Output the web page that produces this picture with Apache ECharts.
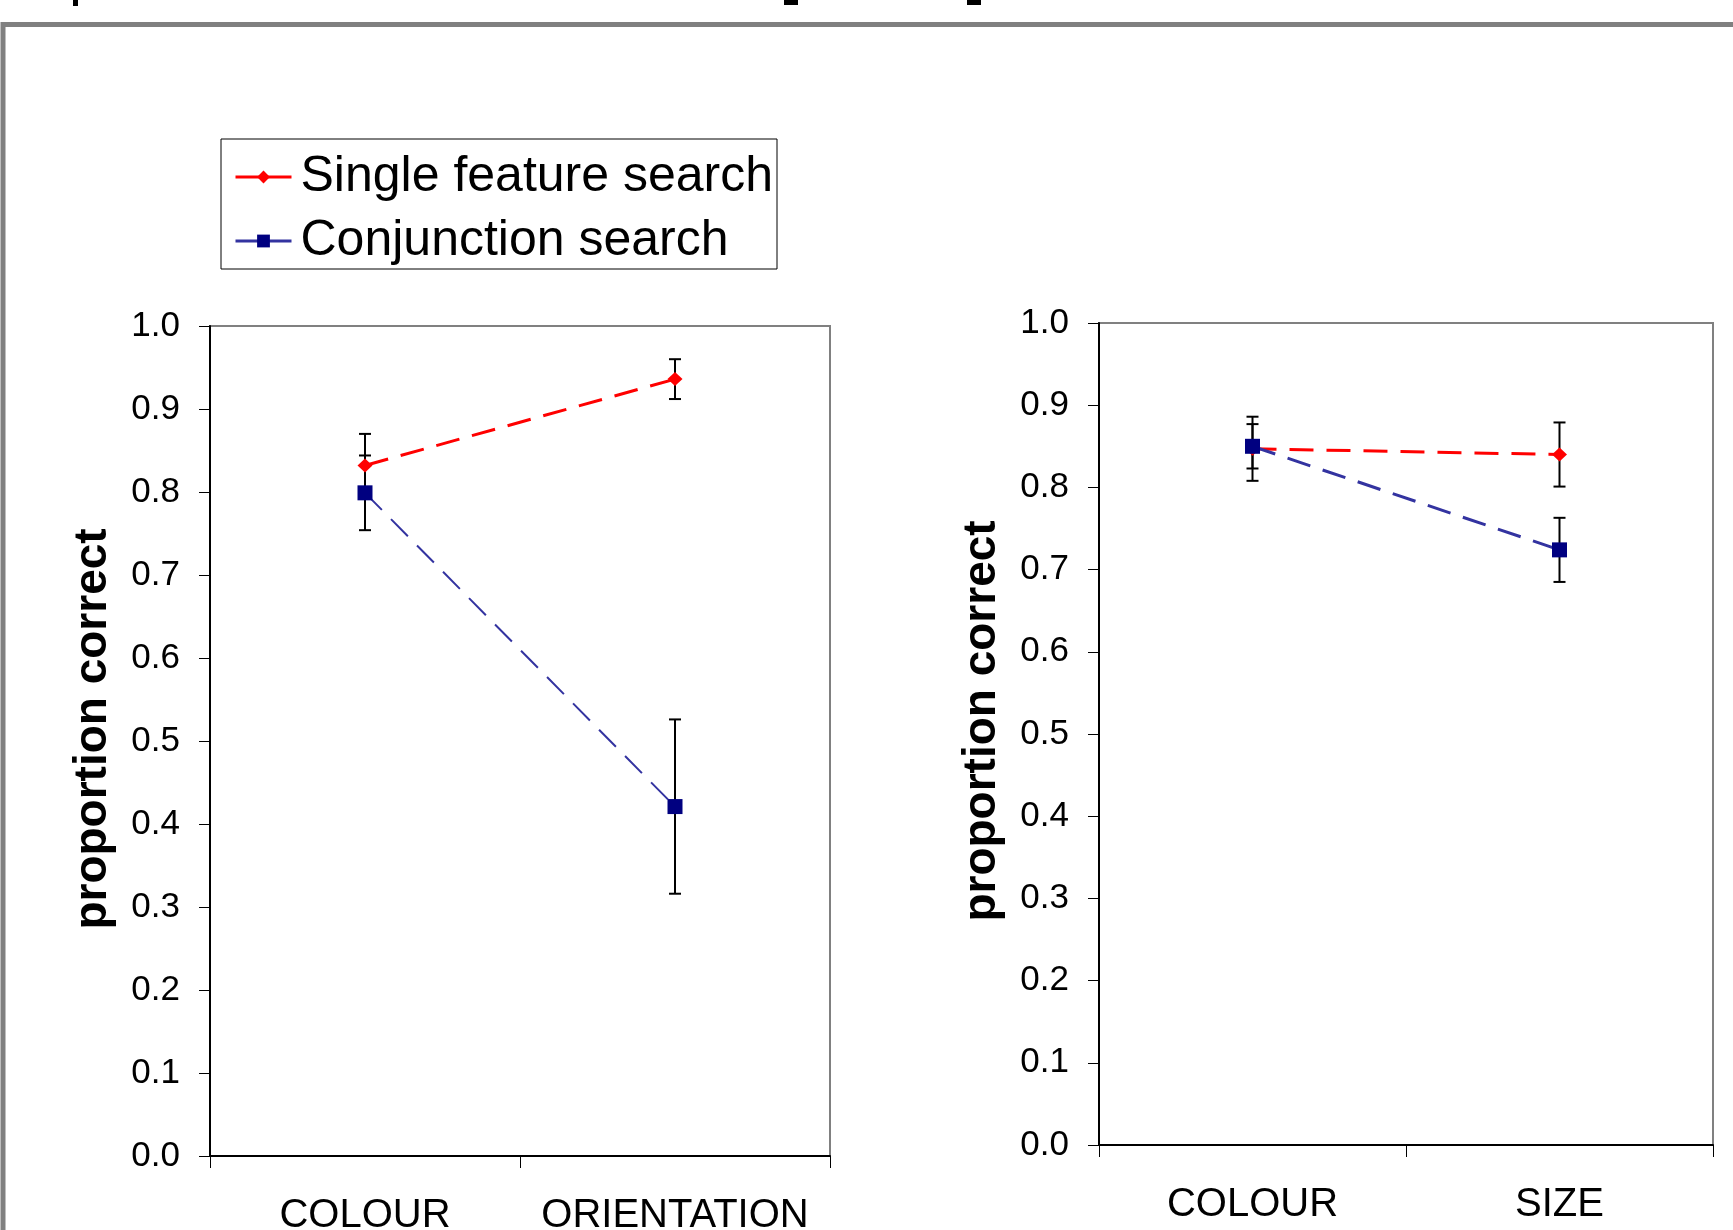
<!DOCTYPE html>
<html>
<head>
<meta charset="utf-8">
<script src="https://cdn.jsdelivr.net/npm/echarts@6/dist/echarts.min.js"></script>
<style>
  html, body { margin: 0; padding: 0; background: #fff; }
  #chart { width: 1733px; height: 1230px; }
</style>
</head>
<body>
<div id="chart"></div>
<script>
// data
var seriesNames = ['Single feature search', 'Conjunction search'];
var leftCategories = ['COLOUR', 'ORIENTATION'];
var rightCategories = ['COLOUR', 'SIZE'];
var singleLeft = [0.832, 0.936];
var singleLeftErr = [0.038, 0.024];
var conjLeft = [0.799, 0.421];
var conjLeftErr = [0.045, 0.105];
var singleRight = [0.847, 0.840];
var singleRightErr = [0.039, 0.039];
var conjRight = [0.850, 0.724];
var conjRightErr = [0.027, 0.039];
var yTicks = [0, 1, 0.1]; // min, max, interval

var FONT = '"Liberation Sans", Arial, sans-serif';
var RED = '#ff0000';
var NAVY = '#000080';
var BLUE_LINE = '#3333a0';

function errData(vals, errs) {
    return vals.map(function (v, i) {
        return [i, v - errs[i], v + errs[i]];
    });
}

function errorSeries(idx, vals, errs) {
    return {
        type: 'custom',
        xAxisIndex: idx,
        yAxisIndex: idx,
        z: 1,
        silent: true,
        encode: { x: 0, y: [1, 2] },
        data: errData(vals, errs),
        renderItem: function (params, api) {
            var top = api.coord([api.value(0), api.value(2)]);
            var bot = api.coord([api.value(0), api.value(1)]);
            var cap = 6;
            var style = { stroke: '#000', lineWidth: 2 };
            return {
                type: 'group',
                children: [
                    { type: 'line', shape: { x1: top[0], y1: top[1], x2: bot[0], y2: bot[1] }, style: style },
                    { type: 'line', shape: { x1: top[0] - cap, y1: top[1], x2: top[0] + cap, y2: top[1] }, style: style },
                    { type: 'line', shape: { x1: bot[0] - cap, y1: bot[1], x2: bot[0] + cap, y2: bot[1] }, style: style }
                ]
            };
        }
    };
}

function lineSeries(idx, name, vals, isSingle, width) {
    return {
        name: name,
        type: 'line',
        xAxisIndex: idx,
        yAxisIndex: idx,
        z: 3,
        data: vals,
        symbol: isSingle ? 'diamond' : 'rect',
        symbolSize: isSingle ? [15, 14] : 15,
        itemStyle: { color: isSingle ? RED : NAVY },
        lineStyle: {
            color: isSingle ? RED : BLUE_LINE,
            width: width,
            type: [24, 13]
        },
        animation: false
    };
}

function xAxis(idx, cats) {
    return {
        type: 'category',
        gridIndex: idx,
        data: cats,
        boundaryGap: true,
        axisLine: { lineStyle: { color: '#000', width: 2 } },
        axisTick: { show: true, length: 12, lineStyle: { color: '#000', width: 1 } },
        axisLabel: {
            color: '#000', fontSize: 40, fontFamily: FONT, margin: 40,
            interval: 0, hideOverlap: false
        },
        splitLine: { show: false }
    };
}

function yAxis(idx, pad) {
    return {
        type: 'value',
        gridIndex: idx,
        min: yTicks[0],
        max: yTicks[1],
        interval: yTicks[2],
        name: 'proportion correct',
        nameLocation: 'middle',
        nameGap: 94,
        nameTextStyle: {
            color: '#000', fontSize: 46, fontWeight: 'bold', fontFamily: FONT,
            padding: [0, 0, 0, pad]
        },
        axisLine: { show: true, lineStyle: { color: '#000', width: 2 } },
        axisTick: { show: true, length: 11, lineStyle: { color: '#000', width: 1 } },
        axisLabel: {
            color: '#000', fontSize: 35, fontFamily: FONT, margin: 30,
            formatter: function (v) { return v.toFixed(1); }
        },
        splitLine: { show: false }
    };
}

var myChart = echarts.init(document.getElementById('chart'), null, { renderer: 'canvas' });

var option = {
    backgroundColor: '#fff',
    animation: false,
    grid: [
        { left: 210, top: 326, width: 620, height: 830, show: true, outerBoundsMode: 'none', containLabel: false,
          borderColor: '#808080', borderWidth: 2, backgroundColor: 'transparent' },
        { left: 1099, top: 323, width: 614, height: 822, show: true, outerBoundsMode: 'none', containLabel: false,
          borderColor: '#808080', borderWidth: 2, backgroundColor: 'transparent' }
    ],
    legend: {
        orient: 'vertical',
        left: 221,
        top: 139,
        data: seriesNames,
        padding: [10, 4, 0, 13],
        itemGap: 8,
        itemWidth: 56,
        itemHeight: 16,
        backgroundColor: '#fff',
        borderColor: '#000',
        borderWidth: 1,
        borderRadius: 0,
        lineStyle: { type: 'solid', width: 3 },
        textStyle: {
            color: '#000', fontSize: 50, fontFamily: FONT, lineHeight: 56,
            padding: [0, 0, 0, 4]
        }
    },
    xAxis: [xAxis(0, leftCategories), xAxis(1, rightCategories)],
    yAxis: [yAxis(0, 24), yAxis(1, 26)],
    series: [
        errorSeries(0, singleLeft, singleLeftErr),
        errorSeries(0, conjLeft, conjLeftErr),
        errorSeries(1, singleRight, singleRightErr),
        errorSeries(1, conjRight, conjRightErr),
        lineSeries(0, seriesNames[0], singleLeft, true, 3),
        lineSeries(0, seriesNames[1], conjLeft, false, 2),
        lineSeries(1, seriesNames[0], singleRight, true, 3),
        lineSeries(1, seriesNames[1], conjRight, false, 3)
    ],
    graphic: [
        // outer frame, runs off the right and bottom edges
        { type: 'rect', z: 0, silent: true, shape: { x: 3, y: 24.5, width: 1800, height: 1300 },
          style: { fill: 'none', stroke: '#808080', lineWidth: 5 } },
        // bits of the cut-off heading above the frame
        { type: 'rect', silent: true, shape: { x: 73, y: 0, width: 5, height: 6 }, style: { fill: '#000' } },
        { type: 'rect', silent: true, shape: { x: 784, y: 0, width: 14, height: 5 }, style: { fill: '#000' } },
        { type: 'rect', silent: true, shape: { x: 967, y: 0, width: 14, height: 5 }, style: { fill: '#000' } }
    ]
};

myChart.setOption(option);
myChart.resize();
</script>
</body>
</html>
